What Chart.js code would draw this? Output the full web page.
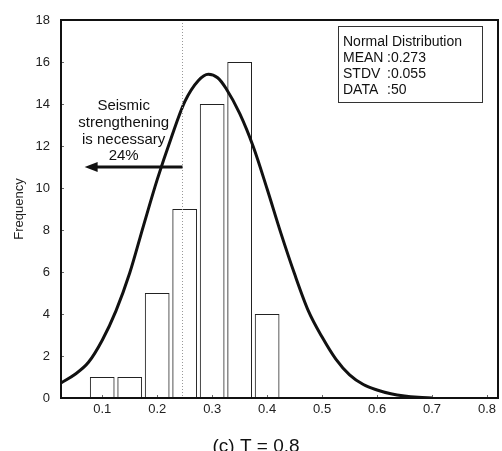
<!DOCTYPE html>
<html><head><meta charset="utf-8">
<script src="https://cdn.jsdelivr.net/npm/chart.js@4"></script>
<style>html,body{margin:0;padding:0;background:#fff;}canvas{display:block;}</style>
</head><body>
<canvas id="c" width="502" height="451"></canvas>
<script>
// ---- data ----
const binCenters = [0.10, 0.15, 0.20, 0.25, 0.30, 0.35, 0.40];
const frequencies = [1, 1, 5, 9, 14, 16, 4];
const curveX = [0.025, 0.05, 0.075, 0.10, 0.125, 0.15, 0.175, 0.20, 0.225, 0.25, 0.275, 0.293, 0.31, 0.325, 0.35, 0.375, 0.40, 0.425, 0.45, 0.475, 0.50, 0.525, 0.55, 0.575, 0.60, 0.625, 0.65, 0.675, 0.70];
const curveY = [0.72, 1.12, 1.7, 2.75, 4.15, 5.95, 8.2, 10.4, 12.35, 14.1, 15.12, 15.42, 15.25, 14.75, 13.55, 11.95, 9.95, 7.85, 5.9, 4.15, 2.9, 1.85, 1.1, 0.64, 0.38, 0.2, 0.09, 0.03, 0.0];
const xTicks = [0.1, 0.2, 0.3, 0.4, 0.5, 0.6, 0.7, 0.8];
const yTicks = [0, 2, 4, 6, 8, 10, 12, 14, 16, 18];
const thresholdX = 0.245;
const arrowTipX = 0.068;
const arrowY = 11;
const noteLines = ['Seismic', 'strengthening', 'is necessary', '24%'];
const noteX = 0.139;
const noteTopY = 13.9;
const statTitle = 'Normal Distribution';
const statLabels = ['MEAN', 'STDV', 'DATA'];
const statValues = [':0.273', ':0.055', ':50'];
const xTitle = '(c) T = 0.8';
const yTitle = 'Frequency';

const FONT = "'Liberation Sans', Arial, sans-serif";

const decor = {
  id: 'decor',
  beforeDraw(chart) {
    const ctx = chart.ctx;
    ctx.save();
    ctx.fillStyle = '#fff';
    ctx.fillRect(0, 0, chart.width, chart.height);
    ctx.restore();
  },
  afterDatasetsDraw(chart) {
    const ctx = chart.ctx;
    const xs = chart.scales.x, ys = chart.scales.y;
    const a = chart.chartArea;
    ctx.save();
    // threshold dotted line
    const tx = Math.round(xs.getPixelForValue(thresholdX)) + 0.5;
    ctx.strokeStyle = '#999';
    ctx.lineWidth = 1;
    ctx.setLineDash([1, 2]);
    ctx.beginPath(); ctx.moveTo(tx, a.top); ctx.lineTo(tx, a.bottom); ctx.stroke();
    ctx.setLineDash([]);
    // arrow
    const ay = ys.getPixelForValue(arrowY);
    const tip = xs.getPixelForValue(arrowTipX);
    ctx.strokeStyle = '#111'; ctx.fillStyle = '#111';
    ctx.lineWidth = 3;
    ctx.beginPath(); ctx.moveTo(tx, ay); ctx.lineTo(tip + 10, ay); ctx.stroke();
    ctx.beginPath(); ctx.moveTo(tip, ay); ctx.lineTo(tip + 13, ay - 5); ctx.lineTo(tip + 13, ay + 5); ctx.closePath(); ctx.fill();
    // note text
    ctx.font = '15px ' + FONT;
    ctx.fillStyle = '#111';
    ctx.textAlign = 'center'; ctx.textBaseline = 'middle';
    const nx = xs.getPixelForValue(noteX);
    const ny = ys.getPixelForValue(noteTopY);
    noteLines.forEach((t, i) => ctx.fillText(t, nx, ny + i * 16.7));
    // stats box
    const bx = a.right - 160, by = a.top + 6, bw = 144, bh = 76;
    ctx.fillStyle = '#fff';
    ctx.fillRect(bx, by, bw, bh);
    ctx.strokeStyle = '#333'; ctx.lineWidth = 1;
    ctx.strokeRect(bx + 0.5, by + 0.5, bw, bh);
    ctx.fillStyle = '#111';
    ctx.font = '14px ' + FONT;
    ctx.textAlign = 'left';
    ctx.fillText(statTitle, bx + 5, by + 16);
    statLabels.forEach((t, i) => {
      ctx.fillText(t, bx + 5, by + 32 + i * 16);
      ctx.fillText(statValues[i], bx + 49, by + 32 + i * 16);
    });
    // inner tick marks
    ctx.strokeStyle = '#666'; ctx.lineWidth = 1;
    xTicks.forEach(v => { const px = Math.round(xs.getPixelForValue(v)) + 0.5; ctx.beginPath(); ctx.moveTo(px, a.bottom); ctx.lineTo(px, a.bottom - 3); ctx.stroke(); });
    yTicks.forEach(v => { const py = Math.round(ys.getPixelForValue(v)) + 0.5; ctx.beginPath(); ctx.moveTo(a.left, py); ctx.lineTo(a.left + 3, py); ctx.stroke(); });
    // frame
    ctx.strokeStyle = '#111'; ctx.lineWidth = 2;
    ctx.strokeRect(a.left, a.top, a.right - a.left, a.bottom - a.top);
    ctx.restore();
  },
  afterDraw(chart) {
    const ctx = chart.ctx;
    ctx.save();
    ctx.font = '19px ' + FONT;
    ctx.fillStyle = '#111';
    ctx.textAlign = 'center'; ctx.textBaseline = 'alphabetic';
    ctx.fillText(xTitle, 256, 452);
    ctx.restore();
  }
};

new Chart(document.getElementById('c'), {
  type: 'bar',
  data: {
    datasets: [
      {
        type: 'bar',
        data: binCenters.map((x, i) => ({ x: x, y: frequencies[i] })),
        backgroundColor: 'rgba(255,255,255,0)',
        borderColor: '#222',
        borderWidth: 1,
        categoryPercentage: 1.0,
        barPercentage: 0.9,
        order: 2
      },
      {
        type: 'line',
        data: curveX.map((x, i) => ({ x: x, y: curveY[i] })),
        borderColor: '#111',
        borderWidth: 3,
        pointRadius: 0,
        tension: 0.4,
        cubicInterpolationMode: 'monotone',
        fill: false,
        order: 1
      }
    ]
  },
  options: {
    responsive: false,
    animation: false,
    devicePixelRatio: 1,
    layout: { padding: { top: 20, right: 4, left: 0, bottom: 0 } },
    plugins: { legend: { display: false }, tooltip: { enabled: false }, title: { display: false } },
    scales: {
      x: {
        type: 'linear',
        min: 0.025,
        max: 0.82,
        offset: false,
        afterBuildTicks: s => { s.ticks = xTicks.map(v => ({ value: v })); },
        afterFit: s => { s.height = 53; },
        ticks: {
          callback: v => Number(v).toFixed(1),
          font: { family: FONT, size: 13 },
          color: '#222',
          padding: 4,
          maxRotation: 0,
          autoSkip: false
        },
        grid: { display: false, drawTicks: false, offset: false },
        border: { display: false }
      },
      y: {
        min: 0,
        max: 18,
        afterBuildTicks: s => { s.ticks = yTicks.map(v => ({ value: v })); },
        afterFit: s => { s.width = 61; },
        ticks: {
          font: { family: FONT, size: 13 },
          color: '#222',
          padding: 11
        },
        title: {
          display: true,
          text: yTitle,
          font: { family: FONT, size: 13 },
          color: '#222',
          padding: { top: 12, bottom: 0 }
        },
        grid: { display: false, drawTicks: false },
        border: { display: false }
      }
    }
  },
  plugins: [decor]
});
</script>
</body></html>
